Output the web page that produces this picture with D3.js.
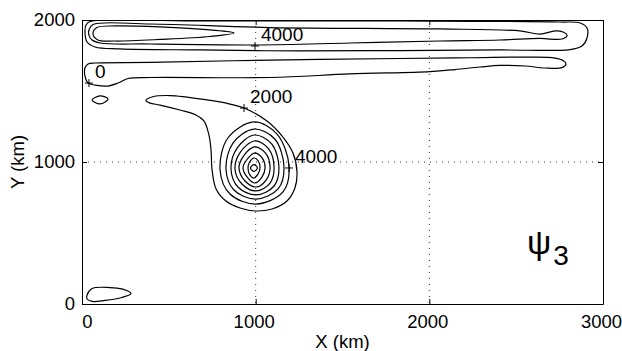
<!DOCTYPE html>
<html>
<head>
<meta charset="utf-8">
<script src="https://cdn.jsdelivr.net/npm/d3@7"></script>
<style>
  body { margin: 0; background: #fff; }
  text { font-family: "Liberation Sans", Arial, sans-serif; }
</style>
</head>
<body>
<div id="my_dataviz"></div>
<script>
// axis ticks (km)
const xTicks = [0, 1000, 2000, 3000];
const yTicks = [0, 1000, 2000];
const xGrid = [1000, 2000];
const yGrid = [1000];

// contour lines, [x km, y km]
const bandOuter = [[46,1989],[679,1993],[1831,1993],[2752,1986],[2868,1979],[2908,1944],[2908,1873],[2879,1817],[2810,1792],[2407,1789],[1831,1785],[1255,1782],[679,1789],[219,1796],[75,1810],[29,1845],[17,1915],[23,1965]];
const bandMiddle = [[40,1930],[63,1968],[392,1972],[1083,1947],[2061,1937],[2522,1923],[2637,1901],[2724,1923],[2770,1915],[2793,1891],[2764,1866],[2637,1870],[2407,1859],[2061,1852],[1543,1838],[1002,1824],[392,1831],[104,1838],[58,1859],[40,1894]];
const bandInner = [[63,1905],[86,1947],[190,1958],[449,1951],[737,1930],[875,1909],[737,1884],[449,1863],[190,1852],[92,1859]];
const bandZero = [[35,1690],[75,1697],[392,1701],[1083,1718],[1831,1729],[2234,1734],[2580,1739],[2724,1732],[2770,1715],[2787,1690],[2764,1665],[2666,1662],[2551,1676],[2407,1680],[2292,1669],[2148,1651],[2004,1637],[1543,1620],[1083,1595],[392,1595],[265,1588],[207,1556],[150,1535],[75,1542],[35,1556],[17,1606],[17,1662]];
const smallEddy = [[58,1437],[104,1465],[150,1444],[104,1409]];
const cornerEddy = [[29,63],[58,109],[161,116],[230,106],[282,74],[230,46],[132,25],[58,18],[29,35]];
const vortexTail = [[368,1433],[403,1458],[507,1468],[720,1437],[852,1408],[933,1380],[1065,1289],[1157,1176],[1215,1063],[1238,930],[1226,817],[1180,725],[1094,669],[1002,655],[910,676],[829,725],[772,810],[749,944],[743,1084],[731,1190],[702,1289],[656,1331],[564,1366],[449,1401],[392,1415]];
const ring1 = [[990,1282],[1123,1197],[1192,972],[1157,789],[1002,704],[852,775],[795,944],[840,1169]];
const ring2 = [[990,1232],[1110,1162],[1163,965],[1129,810],[1002,739],[875,803],[829,951],[870,1134]];
const ring3 = [[993,1190],[1092,1127],[1134,965],[1106,831],[1002,768],[898,824],[858,951],[894,1099]];
const ring4 = [[995,1148],[1075,1092],[1106,958],[1083,852],[1002,796],[921,845],[881,951],[912,1070]];
const ring5 = [[995,1106],[1057,1063],[1083,958],[1060,873],[1002,824],[939,866],[904,958],[930,1042]];
const ring6 = [[993,1063],[1038,1028],[1054,958],[1036,894],[996,852],[956,887],[927,958],[948,1014]];
const ring7 = [[990,1028],[1015,1007],[1025,958],[1013,915],[990,887],[967,908],[956,958],[965,1000]];
const ringCore = [[990,982],[1010,958],[990,933],[970,958]];

const contours = [bandOuter, bandMiddle, bandInner, bandZero, smallEddy, cornerEddy,
  vortexTail, ring1, ring2, ring3, ring4, ring5, ring6, ring7, ringCore];

// contour labels
const labelText = ["4000", "0", "2000", "4000"];
const labelX = [996, 40, 933, 1192];
const labelY = [1817, 1556, 1380, 958];

const margin = { top: 20, right: 19, bottom: 47, left: 82 },
  width = 622 - margin.left - margin.right,
  height = 351 - margin.top - margin.bottom;

const svg = d3.select("#my_dataviz")
  .append("svg")
  .attr("width", 622)
  .attr("height", 351)
  .append("g")
  .attr("transform", "translate(" + margin.left + "," + margin.top + ")");

const x = d3.scaleLinear().domain([0, 3000]).range([0, width]);
const y = d3.scaleLinear().domain([0, 2000]).range([height, 0]);

// dotted grid
svg.selectAll(".gx").data(xGrid).enter().append("line")
  .attr("x1", d => x(d)).attr("x2", d => x(d))
  .attr("y1", 0).attr("y2", height)
  .attr("stroke", "#000").attr("stroke-width", 0.8).attr("stroke-dasharray", "1,5");
svg.selectAll(".gy").data(yGrid).enter().append("line")
  .attr("x1", 0).attr("x2", width)
  .attr("y1", d => y(d)).attr("y2", d => y(d))
  .attr("stroke", "#000").attr("stroke-width", 0.8).attr("stroke-dasharray", "1,5");

// contours
svg.append("clipPath").attr("id", "plotclip")
  .append("rect").attr("width", width).attr("height", height);

const line = d3.line()
  .x(d => x(d[0]))
  .y(d => y(d[1]))
  .curve(d3.curveCatmullRomClosed.alpha(0.5));

svg.append("g").attr("clip-path", "url(#plotclip)")
  .selectAll("path")
  .data(contours)
  .enter()
  .append("path")
  .attr("d", line)
  .attr("fill", "none")
  .attr("stroke", "#000")
  .attr("stroke-width", 1.2);

// clabel style: "+" on the line, number beside it
const labels = svg.append("g");
labelText.forEach(function (t, i) {
  const px = x(labelX[i]), py = y(labelY[i]);
  labels.append("path")
    .attr("d", "M" + (px - 4) + "," + py + "h8M" + px + "," + (py - 4) + "v8")
    .attr("stroke", "#000").attr("stroke-width", 1);
  labels.append("text")
    .attr("x", px + 6).attr("y", py - 5)
    .attr("font-size", 19)
    .text(t);
});

// axes, ticks pointing inward
const xAxis = svg.append("g")
  .attr("transform", "translate(0," + height + ")")
  .call(d3.axisBottom(x).tickValues(xTicks).tickFormat(d3.format("d"))
    .tickSizeInner(-5).tickSizeOuter(0).tickPadding(11));
const yAxis = svg.append("g")
  .call(d3.axisLeft(y).tickValues(yTicks).tickFormat(d3.format("d"))
    .tickSizeInner(-5).tickSizeOuter(0).tickPadding(7));
svg.append("g")
  .call(d3.axisTop(x).tickValues(xTicks).tickSizeInner(-5).tickSizeOuter(0).tickFormat(""));
svg.append("g")
  .attr("transform", "translate(" + width + ",0)")
  .call(d3.axisRight(y).tickValues(yTicks).tickSizeInner(-5).tickSizeOuter(0).tickFormat(""));

svg.selectAll(".domain").attr("stroke", "#000");
svg.selectAll(".tick line").attr("stroke", "#000");
svg.selectAll(".tick text")
  .attr("font-size", 18.5)
  .attr("fill", "#000");
xAxis.selectAll(".tick text").attr("dx", d => d === 0 ? 5 : -2);

// axis titles
svg.append("text")
  .attr("x", width / 2).attr("y", height + 44)
  .attr("text-anchor", "middle")
  .attr("font-size", 18.5)
  .text("X (km)");
svg.append("text")
  .attr("transform", "translate(" + (24 - margin.left) + "," + (height / 2) + ") rotate(-90)")
  .attr("text-anchor", "middle")
  .attr("font-size", 18.5)
  .text("Y (km)");

// psi_3 annotation
const psi = svg.append("text")
  .attr("x", 527 - margin.left).attr("y", 254 - margin.top)
  .attr("font-size", 34);
psi.append("tspan").text("\u03C8");
psi.append("tspan")
  .attr("font-size", 28)
  .attr("dy", 11)
  .attr("dx", 2)
  .text("3");
</script>
</body>
</html>
